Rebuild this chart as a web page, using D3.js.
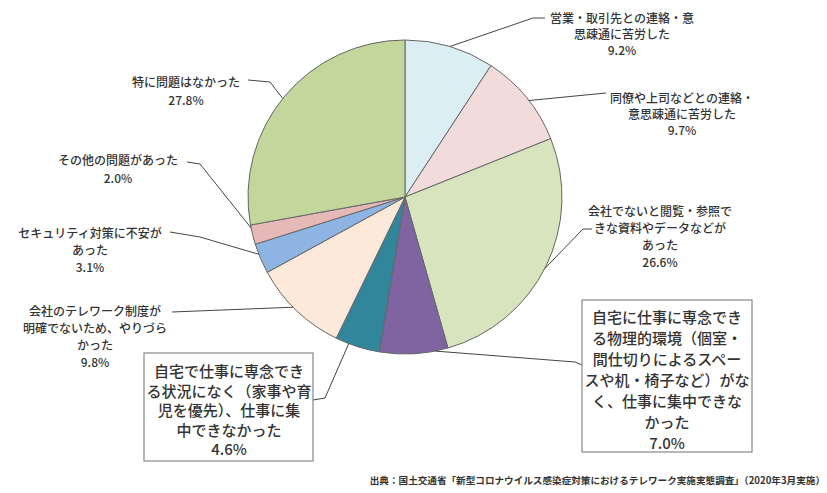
<!DOCTYPE html>
<html><head><meta charset="utf-8">
<script src="https://cdn.jsdelivr.net/npm/d3@7/dist/d3.min.js"></script>
<style>body{margin:0;background:#fff}svg{display:block}text{font-family:"Noto Sans CJK JP","Noto Sans",sans-serif}</style>
</head><body>
<svg id="c" width="827" height="493"></svg>
<script>
const categories = [
  "営業・取引先との連絡・意思疎通に苦労した",
  "同僚や上司などとの連絡・意思疎通に苦労した",
  "会社でないと閲覧・参照できない資料やデータなどがあった",
  "自宅に仕事に専念できる物理的環境（個室・間仕切りによるスペースや机・椅子など）がなく、仕事に集中できなかった",
  "自宅で仕事に専念できる状況になく（家事や育児を優先）、仕事に集中できなかった",
  "会社のテレワーク制度が明確でないため、やりづらかった",
  "セキュリティ対策に不安があった",
  "その他の問題があった",
  "特に問題はなかった"
];
const values = [9.2, 9.7, 26.6, 7.0, 4.6, 9.8, 3.1, 2.0, 27.8];
const colors = ["#dbeef4","#f2dcdb","#d7e4bd","#8064a2","#31869b","#fde9d9","#8eb4e3","#e6b9b8","#c3d69b"];
// label line breaks as in the picture
const labelLines = [
  ["営業・取引先との連絡・意","思疎通に苦労した"],
  ["同僚や上司などとの連絡・","意思疎通に苦労した"],
  ["会社でないと閲覧・参照で","きな資料やデータなどが","あった"],
  ["自宅に仕事に専念でき","る物理的環境（個室・","間仕切りによるスペー","スや机・椅子など）がな","く、仕事に集中できな","かった"],
  ["自宅で仕事に専念でき","る状況になく（家事や育","児を優先）、仕事に集","中できなかった"],
  ["会社のテレワーク制度が","明確でないため、やりづら","かった"],
  ["セキュリティ対策に不安が","あった"],
  ["その他の問題があった"],
  ["特に問題はなかった"]
];
const sourceText = "出典：国土交通省「新型コロナウイルス感染症対策におけるテレワーク実施実態調査」（2020年3月実施）";

const svg = d3.select("#c");
const cx = 405, cy = 197, R = 157;
const pie = d3.pie().sort(null).value(d => d)(values);
const arc = d3.arc().innerRadius(0).outerRadius(R);
const g = svg.append("g").attr("transform", `translate(${cx},${cy})`);
g.selectAll("path").data(pie).join("path")
  .attr("d", arc).attr("fill", (d,i) => colors[i])
  .attr("stroke", "#666").attr("stroke-width", 1);

// label layout: [center x, first line y, line height, font size]
const layout = [
  {x:622, y:19, lh:16, fs:12},
  {x:682, y:99, lh:16, fs:12},
  {x:660, y:212, lh:17, fs:12},
  {x:667, y:318, lh:21, fs:15, box:[582,300,170,152]},
  {x:229, y:372, lh:19.5, fs:15, box:[144,353,169,108]},
  {x:95, y:312, lh:17, fs:12},
  {x:90, y:234, lh:17, fs:12},
  {x:118, y:161, lh:18, fs:12},
  {x:186, y:83, lh:18, fs:12}
];
// leader lines (anchor on slice edge via arc angle, then elbow points)
const leaders = [
  [[533,18],[545,18]],
  [[606,93]],
  [[583,229],[592,229]],
  [[575,362],[582,365]],
  [[325,398],[313,400]],
  [[172,312]],
  [[200,237],[170,232]],
  [[200,164],[187,162]],
  [[270,82],[248,80]]
];
const anchorFrac = [0.5, 0.54, 0.51, 0.19, 0.7, 0.55, 0.65, 0.85, 0.49];
pie.forEach((d,i) => {
  const a = d.startAngle + (d.endAngle - d.startAngle) * anchorFrac[i];
  const p0 = [cx + R*Math.sin(a), cy - R*Math.cos(a)];
  svg.append("path").attr("d", d3.line()([p0, ...leaders[i]]))
    .attr("fill","none").attr("stroke","#444").attr("stroke-width",1);
});
layout.forEach((L,i) => {
  if (L.box) svg.append("rect").attr("x",L.box[0]).attr("y",L.box[1])
    .attr("width",L.box[2]).attr("height",L.box[3])
    .attr("fill","#fff").attr("stroke","#888").attr("stroke-width",1.2);
  const t = svg.append("text").attr("text-anchor","middle")
    .attr("font-size",L.fs).attr("fill","#333").attr("font-weight",500);
  const lines = [...labelLines[i], values[i].toFixed(1) + "%"];
  lines.forEach((s,j) => t.append("tspan").attr("x",L.x)
    .attr("y", L.y + j*L.lh + L.fs*0.35).text(s));
});
svg.append("text").attr("x",825).attr("y",484).attr("text-anchor","end")
  .attr("font-size",9.6).attr("font-weight",700).attr("fill","#333").text(sourceText);
</script>
</body></html>
